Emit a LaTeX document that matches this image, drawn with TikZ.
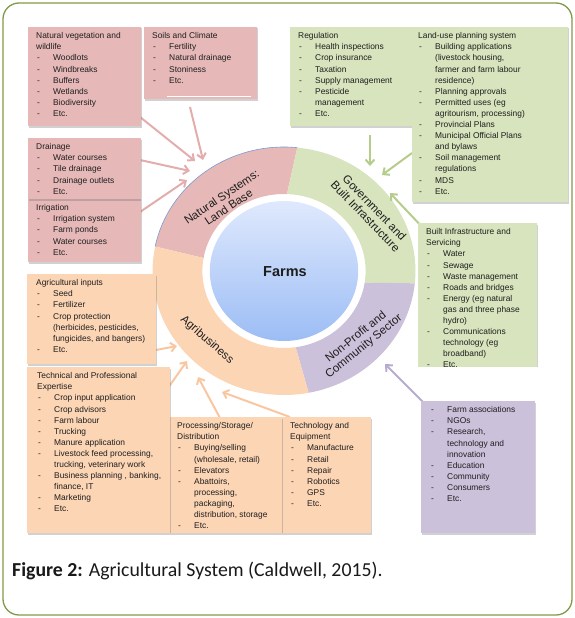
\documentclass[tikz,border=0pt]{standalone}
\usepackage{fontspec}
\setmainfont{Liberation Sans}
\newfontfamily\capfont{Carlito}
\usetikzlibrary{arrows.meta,shadows}
\definecolor{pinkc}{HTML}{E6B9B8}
\definecolor{greenc}{HTML}{D7E4BD}
\definecolor{purplec}{HTML}{CCC1DA}
\definecolor{peachc}{HTML}{FCD5B5}
\definecolor{pinka}{HTML}{E2ADAC}
\definecolor{greena}{HTML}{B5CC8B}
\definecolor{purplea}{HTML}{B8ABD0}
\definecolor{peacha}{HTML}{F8C7A2}
\definecolor{framec}{HTML}{7F9A48}
\definecolor{txt}{HTML}{1E1E1E}
\definecolor{bluetop}{HTML}{DFE9FD}
\definecolor{bluebot}{HTML}{9CBDF5}
\definecolor{ringedge}{HTML}{7B9BD0}
\newcommand\itm[1]{\par\hangindent=17pt\hangafter=1\noindent\makebox[17pt][l]{\hspace{1pt}-}#1}
\newcommand\bxt[3]{\parbox[t][#2pt][t]{#1pt}{\parindent=0pt\rightskip=-30pt plus 1fil\strut #3}}
\newcommand\bxn[3]{\parbox[t][#2pt][t]{#1pt}{\parindent=0pt\rightskip=-30pt plus 1fil #3}}
\begin{document}
\begin{tikzpicture}[x=1pt,y=-1pt,
 box/.style={anchor=north west, inner xsep=8pt, inner ysep=3.8pt, text=txt,
   font=\fontsize{8.4}{11.1}\selectfont,
   drop shadow={shadow xshift=1pt, shadow yshift=-1.3pt, opacity=0.3, fill=black!60}},
 arr/.style={line width=2pt, -{Straight Barb[length=5pt,width=9pt]}},
 ringlbl/.style={align=center, text=txt, font=\fontsize{11.5}{12.5}\selectfont, inner sep=0pt},
]
\useasboundingbox (0,0) rectangle (575,618);
\draw[framec, line width=1.3pt, rounded corners=16pt] (3,3) rectangle (572,615);

% ring
\begin{scope}[shift={(284,271)}, xscale=1.06]
\fill[pinkc] (84.2:124pt) arc[start angle=84.2, end angle=168.6, radius=124pt] -- (170.3:77pt) arc[start angle=170.3, end angle=87.9, radius=77pt] -- cycle;
\draw[ringedge, line width=0.6pt] (84.2:124pt) arc[start angle=84.2, end angle=168.6, radius=124pt];
\fill[greenc] (-5.7:124pt) arc[start angle=-5.7, end angle=84.2, radius=124pt] -- (87.9:77pt) arc[start angle=87.9, end angle=-8.7, radius=77pt] -- cycle;
\fill[purplec] (-79.2:124pt) arc[start angle=-79.2, end angle=-5.7, radius=124pt] -- (-8.7:77pt) arc[start angle=-8.7, end angle=-81.8, radius=77pt] -- cycle;
\fill[peachc] (168.6:124pt) arc[start angle=168.6, end angle=280.8, radius=124pt] -- (278.2:77pt) arc[start angle=278.2, end angle=170.3, radius=77pt] -- cycle;
\shade[top color=bluetop, bottom color=bluebot] (0pt,0pt) circle[radius=70pt];
\end{scope}

\node[ringlbl, rotate=34] (lnat) at (225,202) {Natural Systems:\\Land Base};
\node[ringlbl, rotate=-46] (lgov) at (370,212) {Government and\\Built Infrastructure};
\node[ringlbl, rotate=-41] (lagr) at (207,340) {Agribusiness};
\node[ringlbl, rotate=39] (lnp) at (360,342) {Non-Profit and\\Community Sector};
\node[text=txt, font=\bfseries\fontsize{14.5}{16}\selectfont] (farms) at (285,272) {Farms};

% arrows
\coordinate (p1s) at (140,117); \coordinate (p1e) at (195,161);
\coordinate (p2s) at (190,107); \coordinate (p2e) at (203,160);
\coordinate (p3s) at (140,160); \coordinate (p3e) at (190,171);
\coordinate (p4s) at (140,212); \coordinate (p4e) at (187,180);
\coordinate (g1s) at (370,135); \coordinate (g1e) at (370,166);
\coordinate (g2s) at (412,153); \coordinate (g2e) at (382,175);
\coordinate (g3s) at (425,230); \coordinate (g3e) at (390,193);
\coordinate (u1s) at (423,402); \coordinate (u1e) at (385,364);
\coordinate (o1s) at (156,350); \coordinate (o1e) at (177,346);
\coordinate (o2s) at (168,388); \coordinate (o2e) at (187,361);
\coordinate (o3s) at (220,418); \coordinate (o3e) at (198,377);
\coordinate (o4s) at (290,417); \coordinate (o4e) at (222,392);
\draw[arr, pinka] (p1s) -- (p1e);
\draw[arr, pinka] (p2s) -- (p2e);
\draw[arr, pinka] (p3s) -- (p3e);
\draw[arr, pinka] (p4s) -- (p4e);
\draw[arr, greena] (g1s) -- (g1e);
\draw[arr, greena] (g2s) -- (g2e);
\draw[arr, greena] (g3s) -- (g3e);
\draw[arr, purplea] (u1s) -- (u1e);
\draw[arr, peacha] (o1s) -- (o1e);
\draw[arr, peacha] (o2s) -- (o2e);
\draw[arr, peacha] (o3s) -- (o3e);
\draw[arr, peacha] (o4s) -- (o4e);

% pink boxes
\node[box, fill=pinkc] (nv) at (28,27) {\bxt{97}{91.4}{Natural vegetation and\\wildlife\itm{Woodlots}\itm{Windbreaks}\itm{Buffers}\itm{Wetlands}\itm{Biodiversity}\itm{Etc.}}};
\node[box, fill=pinkc] (sc) at (144,27) {\bxt{97}{64.4}{Soils and Climate\itm{Fertility}\itm{Natural drainage}\itm{Stoniness}\itm{Etc.}}};
\draw[white, line width=0.8pt] (167,96) -- (251,96);
\node[box, fill=pinkc] (ir) at (28,199) {\bxt{97}{55.4}{Irrigation\itm{Irrigation system}\itm{Farm ponds}\itm{Water courses}\itm{Etc.}}};
\node[box, fill=pinkc] (dr) at (28,138) {\bxt{97}{53.4}{Drainage\itm{Water courses}\itm{Tile drainage}\itm{Drainage outlets}\itm{Etc.}}};

% green boxes
\node[box, fill=greenc] (rg) at (290,27) {\bxt{108}{91.4}{Regulation\itm{Health inspections}\itm{Crop insurance}\itm{Taxation}\itm{Supply management}\itm{Pesticide\newline management}\itm{Etc.}}};
\node[box, fill=greenc, inner xsep=6pt] (lu) at (412,27) {\bxt{144}{167.4}{Land-use planning system\itm{Building applications\newline (livestock housing,\newline farmer and farm labour\newline residence)}\itm{Planning approvals}\itm{Permitted uses (eg\newline agritourism, processing)}\itm{Provincial Plans}\itm{Municipal Official Plans\newline and bylaws}\itm{Soil management\newline regulations}\itm{MDS}\itm{Etc.}}};
\begin{scope}
\clip (410,215) rectangle (545,366.5);
\node[box, fill=greenc] (bi) at (418,223) {\bxt{103}{136.4}{Built Infrastructure and\\Servicing\itm{Water}\itm{Sewage}\itm{Waste management}\itm{Roads and bridges}\itm{Energy (eg natural\newline gas and three phase\newline hydro)}\itm{Communications\newline technology (eg\newline broadband)}\itm{Etc.}}};
\end{scope}

% purple box
\node[box, fill=purplec, inner xsep=9pt] (np) at (421,401) {\bxn{96}{124.4}{\itm{\strut Farm associations}\itm{NGOs}\itm{Research,\newline technology and\newline innovation}\itm{Education}\itm{Community}\itm{Consumers}\itm{Etc.}}};

% peach boxes
\node[box, fill=peachc, inner xsep=9pt] (ai) at (27,274) {\bxt{111}{82.4}{Agricultural inputs\itm{Seed}\itm{Fertilizer}\itm{Crop protection\newline (herbicides, pesticides,\newline fungicides, and bangers)}\itm{Etc.}}};
\node[box, fill=peachc] (tq) at (282,417) {\bxt{73}{108.4}{Technology and\\Equipment\itm{Manufacture}\itm{Retail}\itm{Repair}\itm{Robotics}\itm{GPS}\itm{Etc.}}};
\node[box, fill=peachc, inner xsep=7pt] (ps) at (170,417) {\bxt{98}{108.4}{Processing/Storage/\\Distribution\itm{Buying/selling\newline (wholesale, retail)}\itm{Elevators}\itm{Abattoirs,\newline processing,\newline packaging,\newline distribution, storage}\itm{Etc.}}};
\node[box, fill=peachc, inner xsep=10pt] (te) at (27,367) {\bxt{123}{158.4}{Technical and Professional\\Expertise\itm{Crop input application}\itm{Crop advisors}\itm{Farm labour}\itm{Trucking}\itm{Manure application}\itm{Livestock feed processing,\newline trucking, veterinary work}\itm{Business planning , banking,\newline finance, IT}\itm{Marketing}\itm{Etc.}}};

% caption
\node[anchor=base west, inner sep=0pt, text=black!90, font=\capfont\fontsize{19.8}{22}\selectfont] (cap) at (12,576) {\textbf{Figure 2:} Agricultural System (Caldwell, 2015).};
\end{tikzpicture}
\end{document}
